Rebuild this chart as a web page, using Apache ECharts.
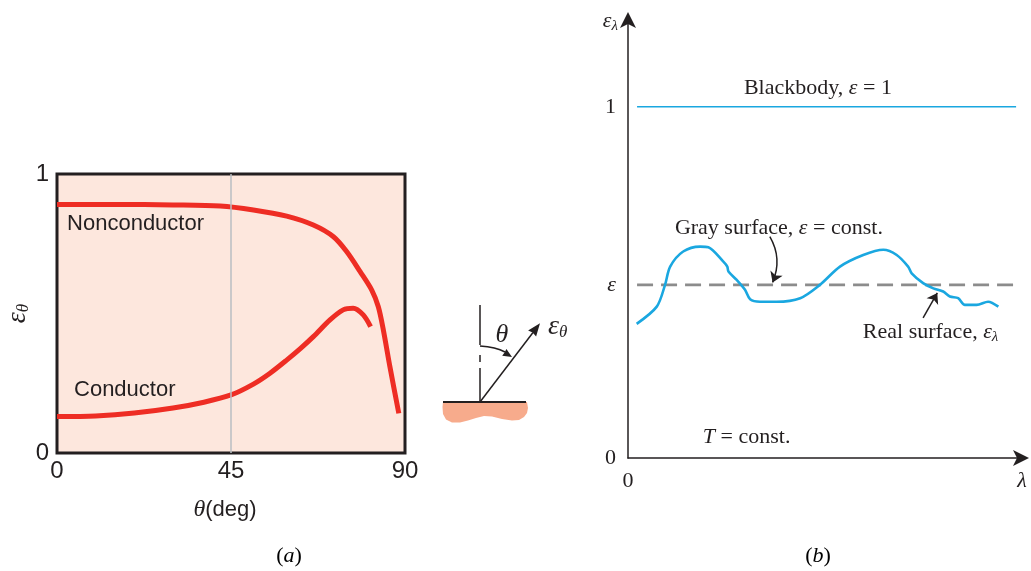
<!DOCTYPE html>
<html>
<head>
<meta charset="utf-8">
<script src="https://cdn.jsdelivr.net/npm/echarts@6/dist/echarts.min.js"></script>
<style>
  html, body { margin: 0; padding: 0; background: #ffffff; }
  #chart { width: 1031px; height: 571px; }
</style>
</head>
<body>
<div id="chart"></div>
<script>
// Panel (a): directional emissivity against polar angle
const thetaNonconductor = [0, 15, 30, 42.2, 50.8, 59.4, 66.3, 71.5, 74.9, 78.4, 81.4, 83.1, 84.4, 86.1, 88.4];
const epsNonconductor   = [0.891, 0.891, 0.889, 0.885, 0.871, 0.849, 0.817, 0.775, 0.722, 0.650, 0.584, 0.524, 0.441, 0.309, 0.142];
const thetaConductor = [0, 10, 20, 30, 38, 45, 50.8, 55, 59.4, 63, 66.3, 70.6, 74.0, 76.6, 79.2, 81.1];
const epsConductor   = [0.131, 0.133, 0.143, 0.161, 0.182, 0.208, 0.247, 0.285, 0.333, 0.375, 0.417, 0.477, 0.513, 0.519, 0.495, 0.453];
const thetaTicks = [0, 45, 90];
const thetaMarker = 45;

// Panel (b): spectral emissivity against wavelength
const lambdaReal = [2.2, 7.3, 9.4, 10.7, 14.0, 18.3, 20.4, 24.2, 25.2, 25.5, 27.6, 29.7, 31.0, 33.5, 37.7, 43.7, 48.7, 53.8, 59.7, 64.8, 68.2, 71.1, 72.0, 74.9, 77.5, 80.0, 81.7, 83.8, 85.5, 88.5, 91.4, 94.0];
const epsReal    = [0.382, 0.431, 0.493, 0.545, 0.588, 0.602, 0.600, 0.559, 0.545, 0.531, 0.507, 0.479, 0.452, 0.445, 0.445, 0.455, 0.493, 0.545, 0.578, 0.593, 0.578, 0.545, 0.526, 0.498, 0.483, 0.474, 0.460, 0.455, 0.436, 0.436, 0.445, 0.431];
const epsGray = 0.493;
const epsBlack = 1;
const lambdaSpan = [2.3, 98.5];

const INK = '#231f20';
const RED = '#ee2d24';
const BLUE = '#1aa7e0';
const SANS = '"Liberation Sans", Arial, sans-serif';
const SERIF = '"Liberation Serif", "Times New Roman", serif';

const chart = echarts.init(document.getElementById('chart'), null, { renderer: 'canvas' });

const serifRich = {
  t: { fontFamily: SERIF, fontSize: 22, color: INK },
  i: { fontFamily: SERIF, fontSize: 22, fontStyle: 'italic', color: INK },
  s: { fontFamily: SERIF, fontSize: 15, fontStyle: 'italic', color: INK, verticalAlign: 'bottom', padding: [10, 0, 0, 0] }
};

const option = {
  backgroundColor: '#ffffff',
  animation: false,
  grid: [
    { left: 57, top: 174, width: 348, height: 279, show: true,
      backgroundColor: '#fde7dd', borderColor: INK, borderWidth: 3 },
    { left: 628, top: 19, width: 394, height: 439 }
  ],
  xAxis: [
    { gridIndex: 0, type: 'value', min: 0, max: 90, interval: 45,
      name: '{i|θ}{t|(deg)}', nameLocation: 'middle', nameGap: 45,
      nameTextStyle: { padding: [0, 12, 0, 0], rich: {
        i: { fontFamily: SERIF, fontStyle: 'italic', fontSize: 24, color: INK },
        t: { fontFamily: SANS, fontSize: 22, color: INK } } },
      axisLine: { show: false }, axisTick: { show: false }, splitLine: { show: false },
      axisLabel: { fontFamily: SANS, fontSize: 24, color: INK, margin: 6,
        customValues: thetaTicks, formatter: v => String(v) } },
    { gridIndex: 1, type: 'value', min: 0, max: 100,
      axisLine: { show: true, lineStyle: { color: INK, width: 1.5 },
        symbol: ['none', 'arrow'], symbolSize: [12, 16], symbolOffset: [0, 7] },
      axisTick: { show: false }, splitLine: { show: false },
      axisLabel: { margin: 12, customValues: [0, 100],
        formatter: v => v === 0 ? '{t|0}' : '{i|λ}', rich: serifRich } }
  ],
  yAxis: [
    { gridIndex: 0, type: 'value', min: 0, max: 1, interval: 1,
      name: '{e|ε}{s|θ}', nameLocation: 'middle', nameGap: 19, nameRotate: 90,
      nameTextStyle: { rich: {
        e: { fontFamily: SERIF, fontStyle: 'italic', fontSize: 28, color: INK },
        s: { fontFamily: SERIF, fontStyle: 'italic', fontSize: 17, color: INK, verticalAlign: 'bottom', padding: [12, 0, 0, 0] } } },
      axisLine: { show: false }, axisTick: { show: false }, splitLine: { show: false },
      axisLabel: { fontFamily: SANS, fontSize: 24, color: INK, margin: 8 } },
    { gridIndex: 1, type: 'value', min: 0, max: 1.25,
      name: '{e|ε}{s|λ}', nameLocation: 'end', nameGap: -2,
      nameTextStyle: { align: 'right', verticalAlign: 'middle', padding: [0, 10, 0, 0], rich: {
        e: { fontFamily: SERIF, fontStyle: 'italic', fontSize: 22, color: INK },
        s: { fontFamily: SERIF, fontStyle: 'italic', fontSize: 15, color: INK, verticalAlign: 'bottom', padding: [10, 0, 0, 0] } } },
      axisLine: { show: true, lineStyle: { color: INK, width: 1.5 },
        symbol: ['none', 'arrow'], symbolSize: [12, 16], symbolOffset: [0, 7] },
      axisTick: { show: false }, splitLine: { show: false },
      axisLabel: { margin: 12, customValues: [0, epsGray, epsBlack],
        formatter: v => v === epsGray ? '{i|ε}' : '{t|' + v + '}', rich: serifRich } }
  ],
  series: [
    { name: 'Nonconductor', type: 'line', xAxisIndex: 0, yAxisIndex: 0,
      data: thetaNonconductor.map((t, i) => [t, epsNonconductor[i]]),
      smooth: 0.3, showSymbol: false, z: 3,
      lineStyle: { color: RED, width: 5, cap: 'butt' },
      markLine: { silent: true, symbol: 'none', label: { show: false },
        lineStyle: { color: '#b9bec2', width: 1.5, type: 'solid' },
        data: [{ xAxis: thetaMarker }] },
      markPoint: { symbol: 'circle', symbolSize: 0, silent: true,
        label: { show: true, position: 'right', distance: 0, formatter: 'Nonconductor',
          fontFamily: SANS, fontSize: 22, color: INK },
        data: [{ coord: [2.6, 0.82] }] } },
    { name: 'Conductor', type: 'line', xAxisIndex: 0, yAxisIndex: 0,
      data: thetaConductor.map((t, i) => [t, epsConductor[i]]),
      smooth: 0.3, showSymbol: false, z: 3,
      lineStyle: { color: RED, width: 5, cap: 'butt' },
      markPoint: { symbol: 'circle', symbolSize: 0, silent: true,
        label: { show: true, position: 'right', distance: 0, formatter: 'Conductor',
          fontFamily: SANS, fontSize: 22, color: INK },
        data: [{ coord: [4.4, 0.226] }] } },
    { name: 'Blackbody', type: 'line', xAxisIndex: 1, yAxisIndex: 1,
      data: lambdaSpan.map(l => [l, epsBlack]), showSymbol: false,
      lineStyle: { color: BLUE, width: 1.5 },
      markPoint: { symbol: 'circle', symbolSize: 0, silent: true,
        label: { show: true, position: 'inside',
          formatter: '{t|Blackbody, }{i|ε}{t| = 1}', rich: serifRich },
        data: [{ coord: [48.2, 1.054] }] } },
    { name: 'Gray surface', type: 'line', xAxisIndex: 1, yAxisIndex: 1,
      data: lambdaSpan.map(l => [l, epsGray]), showSymbol: false,
      lineStyle: { color: '#8c8c8c', width: 2.6, type: [16, 8] },
      markPoint: { symbol: 'circle', symbolSize: 0, silent: true,
        label: { show: true, position: 'right', distance: 0,
          formatter: '{t|Gray surface, }{i|ε}{t| = const.}', rich: serifRich },
        data: [{ coord: [11.9, 0.655] }] } },
    { name: 'Real surface', type: 'line', xAxisIndex: 1, yAxisIndex: 1,
      data: lambdaReal.map((l, i) => [l, epsReal[i]]),
      smooth: 0.3, showSymbol: false, z: 3,
      lineStyle: { color: BLUE, width: 2.6 },
      markPoint: { symbol: 'circle', symbolSize: 0, silent: true,
        label: { show: true, position: 'right', distance: 0, rich: serifRich },
        data: [
          { coord: [59.6, 0.359], label: { formatter: '{t|Real surface, }{i|ε}{s|λ}' } },
          { coord: [19.0, 0.060], label: { formatter: '{i|T}{t| = const.}' } }
        ] } },
    { name: 'Pointers', type: 'lines', coordinateSystem: 'cartesian2d', xAxisIndex: 1, yAxisIndex: 1,
      symbol: ['none', 'arrow'], symbolSize: 10, silent: true, z: 4,
      lineStyle: { color: INK, width: 1.5, opacity: 1 },
      data: [
        { coords: [[36.0, 0.630], [36.7, 0.500]], lineStyle: { curveness: 0.25 } },
        { coords: [[74.9, 0.399], [78.5, 0.470]], lineStyle: { curveness: 0 } }
      ] }
  ],
  graphic: [
    // surface sketch between the panels
    { type: 'polygon', silent: true,
      shape: { points: [[443, 402], [527, 402], [528, 408], [527, 413], [524, 417], [519, 420], [512, 420.5], [502, 419], [492, 416.5], [484, 416], [476, 418], [468, 420.5], [460, 422.5], [452, 422.5], [446, 419.5], [443, 414], [442.5, 407]] },
      style: { fill: '#f7ab8c' } },
    { type: 'line', silent: true, shape: { x1: 443, y1: 402, x2: 526, y2: 402 }, style: { stroke: INK, lineWidth: 2 } },
    { type: 'line', silent: true, shape: { x1: 480, y1: 305, x2: 480, y2: 345 }, style: { stroke: INK, lineWidth: 1.5 } },
    { type: 'line', silent: true, shape: { x1: 480, y1: 355, x2: 480, y2: 362 }, style: { stroke: INK, lineWidth: 1.5 } },
    { type: 'line', silent: true, shape: { x1: 480, y1: 368, x2: 480, y2: 402 }, style: { stroke: INK, lineWidth: 1.5 } },
    { type: 'line', silent: true, shape: { x1: 480, y1: 402, x2: 533, y2: 332.5 }, style: { stroke: INK, lineWidth: 1.5 } },
    { type: 'polygon', silent: true, shape: { points: [[540, 323.3], [536.1, 336.4], [532.6, 332.4], [528.1, 330.4]] }, style: { fill: INK } },
    { type: 'bezierCurve', silent: true, shape: { x1: 480, y1: 346, x2: 505, y2: 352, cpx1: 496, cpy1: 347 }, style: { stroke: INK, fill: 'none', lineWidth: 1.5 } },
    { type: 'polygon', silent: true, shape: { points: [[512, 357], [502.2, 355.8], [504.6, 352.6], [506.4, 349]] }, style: { fill: INK } },
    { type: 'text', silent: true, style: { text: 'θ', x: 502, y: 335, align: 'center', verticalAlign: 'middle',
      font: 'italic 26px "Liberation Serif", serif', fill: INK } },
    { type: 'text', silent: true, style: { text: '{e|ε}{s|θ}', x: 548, y: 327, align: 'left', verticalAlign: 'middle',
      rich: { e: { fontFamily: SERIF, fontStyle: 'italic', fontSize: 28, fill: INK },
              s: { fontFamily: SERIF, fontStyle: 'italic', fontSize: 17, fill: INK, verticalAlign: 'bottom', padding: [12, 0, 0, 0] } } } },
    // panel captions
    { type: 'text', silent: true, style: { text: '{t|(}{i|a}{t|)}', x: 289, y: 556, align: 'center', verticalAlign: 'middle', rich: serifRich } },
    { type: 'text', silent: true, style: { text: '{t|(}{i|b}{t|)}', x: 818, y: 556, align: 'center', verticalAlign: 'middle', rich: serifRich } }
  ]
};

chart.setOption(option);
</script>
</body>
</html>
